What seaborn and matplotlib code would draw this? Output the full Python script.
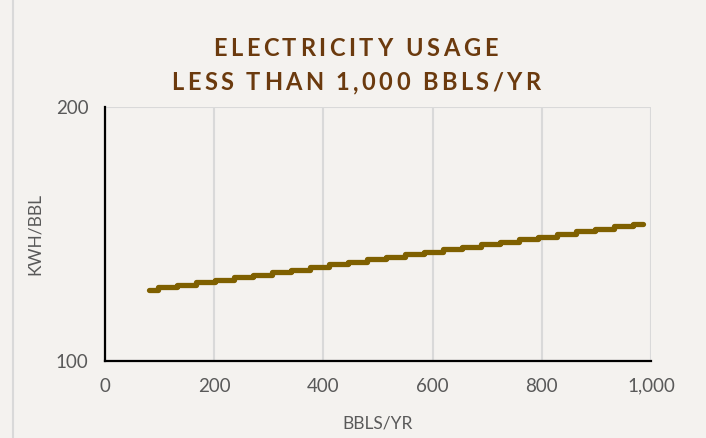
import matplotlib
matplotlib.use("Agg")
import matplotlib.pyplot as plt
import seaborn as sns
import pandas as pd
from matplotlib.lines import Line2D

# Production volume (bbls/yr) at which each usage level begins, and the usage level (kWh/bbl)
bbls_per_year = [80, 97, 132, 167, 202, 236, 271, 306, 341, 375, 410, 445, 480, 515,
                 549, 584, 619, 654, 689, 723, 758, 793, 828, 863, 897, 932, 967, 985]
kwh_per_bbl = [128, 129, 130, 131, 132, 133, 134, 135, 136, 137, 138, 139, 140, 141,
               142, 143, 144, 145, 146, 147, 148, 149, 150, 151, 152, 153, 154, 154]

x_ticks = [0, 200, 400, 600, 800, 1000]
x_tick_labels = ["0", "200", "400", "600", "800", "1,000"]
y_ticks = [100, 200]
y_tick_labels = ["100", "200"]

title_lines = ["ELECTRICITY USAGE", "LESS THAN 1,000 BBLS/YR"]
x_label = "BBLS/YR"
y_label = "KWH/BBL"

bg = "#F4F2EF"
line_color = "#7F6000"
title_color = "#6B3A0E"
text_gray = "#595959"
grid_gray = "#D9D9D9"

sns.set_theme(style="white")
plt.rcParams["font.family"] = ["Lato", "DejaVu Sans"]

df = pd.DataFrame({"bbls": bbls_per_year, "kwh": kwh_per_bbl})

W, H = 706, 438
fig = plt.figure(figsize=(W / 100, H / 100), dpi=100, facecolor=bg)
ax = fig.add_axes([105 / W, 1 - 361 / H, (651 - 105) / W, (361 - 107) / H])
ax.set_facecolor(bg)

sns.lineplot(data=df, x="bbls", y="kwh", ax=ax, color=line_color, linewidth=3.8,
             drawstyle="steps-post", solid_capstyle="round", solid_joinstyle="round",
             zorder=3)

ax.set_xlim(0, 1000)
ax.set_ylim(100, 200)
ax.set_xticks(x_ticks)
ax.set_xticklabels(x_tick_labels)
ax.set_yticks(y_ticks)
ax.set_yticklabels(y_tick_labels)

ax.grid(True, color=grid_gray, linewidth=1.5, zorder=0)
ax.set_axisbelow(True)

for side in ["top", "right"]:
    ax.spines[side].set_visible(False)
for side in ["left", "bottom"]:
    ax.spines[side].set_color("black")
    ax.spines[side].set_linewidth(1.6)
    ax.spines[side].set_zorder(4)

ax.tick_params(axis="both", which="major", direction="inout", length=8, width=1.6,
               color="black", labelcolor=text_gray, labelsize=13.5)
ax.tick_params(axis="x", pad=8)
ax.tick_params(axis="y", pad=8)

ax.set_xlabel(x_label, color=text_gray, fontsize=12.5, labelpad=15)
ax.set_ylabel(y_label, color=text_gray, fontsize=12.5, labelpad=9)


def spaced_text(s, cx_px, cy_px, tracking_px, **kw):
    """Draw a centred line of text with extra letter spacing (pixel units)."""
    renderer = fig.canvas.get_renderer()

    def width(t):
        if not t:
            return 0.0
        probe = fig.text(0, 0, t.replace(" ", "\u00a0"), **kw)
        w = probe.get_window_extent(renderer).width
        probe.remove()
        return w

    total = width(s) + tracking_px * (len(s) - 1)
    x0 = cx_px - total / 2
    for i, ch in enumerate(s):
        if ch == " ":
            continue
        x = x0 + width(s[:i]) + tracking_px * i
        fig.text(x / W, 1 - cy_px / H, ch, ha="left", va="center", **kw)


title_kw = dict(color=title_color, fontsize=17, fontweight="bold")
spaced_text(title_lines[0], 355, 48, 3.6, **title_kw)
spaced_text(title_lines[1], 356, 83, 3.4, **title_kw)

# outer chart border on the left edge
fig.add_artist(Line2D([13 / W, 13 / W], [0, 1], transform=fig.transFigure,
                      color=grid_gray, linewidth=1.5))

fig.savefig("out.png", dpi=100, facecolor=bg)
